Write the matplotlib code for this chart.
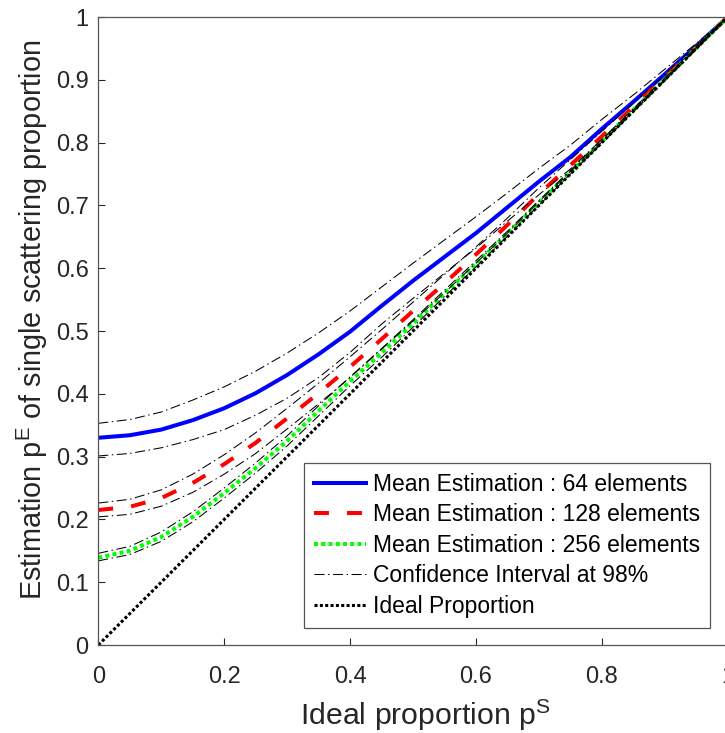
import matplotlib
matplotlib.use('Agg')
import matplotlib.pyplot as plt

# ---------------- data ----------------
p_ideal = [0.00, 0.05, 0.10, 0.15, 0.20, 0.25, 0.30, 0.35, 0.40, 0.45, 0.50,
           0.55, 0.60, 0.65, 0.70, 0.75, 0.80, 0.85, 0.90, 0.95, 1.00]

mean_64 = [0.330, 0.334, 0.343, 0.358, 0.377, 0.401, 0.430, 0.463, 0.499, 0.540, 0.580,
           0.618, 0.656, 0.697, 0.738, 0.777, 0.822, 0.865, 0.909, 0.954, 1.000]
upper_64 = [0.353, 0.359, 0.371, 0.390, 0.411, 0.436, 0.465, 0.497, 0.532, 0.570, 0.608,
            0.645, 0.682, 0.720, 0.759, 0.796, 0.837, 0.876, 0.917, 0.958, 1.000]
lower_64 = [0.301, 0.305, 0.314, 0.327, 0.343, 0.366, 0.393, 0.426, 0.466, 0.511, 0.552,
            0.592, 0.632, 0.675, 0.717, 0.758, 0.805, 0.852, 0.900, 0.950, 1.000]

mean_128 = [0.215, 0.220, 0.234, 0.258, 0.288, 0.322, 0.361, 0.401, 0.443, 0.487, 0.532,
            0.576, 0.622, 0.669, 0.718, 0.764, 0.810, 0.857, 0.905, 0.952, 1.000]
upper_128 = [0.226, 0.232, 0.247, 0.272, 0.303, 0.338, 0.377, 0.417, 0.459, 0.502, 0.546,
             0.590, 0.634, 0.680, 0.728, 0.773, 0.818, 0.863, 0.909, 0.955, 1.000]
lower_128 = [0.204, 0.208, 0.221, 0.243, 0.272, 0.305, 0.344, 0.384, 0.426, 0.471, 0.516,
             0.561, 0.608, 0.656, 0.706, 0.754, 0.801, 0.850, 0.899, 0.949, 1.000]

mean_256 = [0.139, 0.150, 0.172, 0.204, 0.242, 0.282, 0.325, 0.373, 0.420, 0.465, 0.512,
            0.560, 0.607, 0.655, 0.704, 0.753, 0.802, 0.852, 0.901, 0.951, 1.000]
upper_256 = [0.146, 0.157, 0.180, 0.212, 0.250, 0.290, 0.333, 0.381, 0.427, 0.472, 0.518,
             0.565, 0.612, 0.659, 0.708, 0.756, 0.805, 0.854, 0.903, 0.952, 1.000]
lower_256 = [0.134, 0.144, 0.165, 0.196, 0.234, 0.274, 0.317, 0.365, 0.413, 0.458, 0.506,
             0.555, 0.602, 0.651, 0.700, 0.750, 0.799, 0.849, 0.899, 0.949, 1.000]

ideal_x = [0.0, 1.0]
ideal_y = [0.0, 1.0]

x_ticks = [0, 0.2, 0.4, 0.6, 0.8, 1]
x_tick_labels = ['0', '0.2', '0.4', '0.6', '0.8', '1']
y_ticks = [0, 0.1, 0.2, 0.3, 0.4, 0.5, 0.6, 0.7, 0.8, 0.9, 1]
y_tick_labels = ['0', '0.1', '0.2', '0.3', '0.4', '0.5', '0.6', '0.7', '0.8', '0.9', '1']

legend_labels = ['Mean Estimation : 64 elements',
                 'Mean Estimation : 128 elements',
                 'Mean Estimation : 256 elements',
                 'Confidence Interval at 98%',
                 'Ideal Proportion']

# ---------------- fonts ----------------
plt.rcParams['font.family'] = ['Liberation Sans', 'DejaVu Sans']
plt.rcParams['mathtext.fontset'] = 'custom'
plt.rcParams['mathtext.rm'] = 'Liberation Sans'
plt.rcParams['mathtext.it'] = 'Liberation Sans'
plt.rcParams['mathtext.bf'] = 'Liberation Sans'

W, H = 725, 733
fig = plt.figure(figsize=(W / 100, H / 100), dpi=100)
ax = fig.add_axes([98.3 / W, (H - 645) / H, 629.5 / W, 628 / H])

lw_main = 2.9
ax.plot(p_ideal, mean_64, color='#0000ff', lw=lw_main, ls='-', label=legend_labels[0])
ax.plot(p_ideal, mean_128, color='#ff0000', lw=lw_main, ls=(0, (3.7, 4.5)), label=legend_labels[1])
ax.plot(p_ideal, mean_256, color='#00ff00', lw=lw_main, ls=(0, (1.0, 0.8)), label=legend_labels[2])

ci_style = dict(color='black', lw=0.75, ls=(0, (9.6, 3.4, 1.4, 3.4)))
ax.plot(p_ideal, upper_64, label=legend_labels[3], **ci_style)
ax.plot(p_ideal, lower_64, **ci_style)
ax.plot(p_ideal, upper_128, **ci_style)
ax.plot(p_ideal, lower_128, **ci_style)
ax.plot(p_ideal, upper_256, **ci_style)
ax.plot(p_ideal, lower_256, **ci_style)

ax.plot(ideal_x, ideal_y, color='black', lw=2.2, ls=(0, (1.0, 0.75)), label=legend_labels[4])

ax.set_xlim(0, 1)
ax.set_ylim(0, 1)
ax.set_xticks(x_ticks)
ax.set_xticklabels(x_tick_labels)
ax.set_yticks(y_ticks)
ax.set_yticklabels(y_tick_labels)
ax.tick_params(direction='in', length=5, width=0.8, color='#262626',
               labelsize=17, labelcolor='#262626', top=False, right=False)
ax.tick_params(axis='x', pad=15)
ax.tick_params(axis='y', pad=7)
for s in ax.spines.values():
    s.set_color('#555555')
    s.set_linewidth(0.9)

ax.set_xlabel(r'Ideal proportion $\mathrm{p}^{\mathrm{S}}$', fontsize=21.8, color='#262626', labelpad=7)
ax.set_ylabel(r'Estimation $\mathrm{p}^{\mathrm{E}}$ of single scattering proportion',
              fontsize=20.8, color='#262626', labelpad=4)
ax.xaxis.label.set_x(0.52)
ax.yaxis.label.set_y(0.5175)

handles, labels = ax.get_legend_handles_labels()
leg = fig.legend(handles, labels, loc='upper left', bbox_to_anchor=(304 / W, 1 - 463 / H),
                 bbox_transform=fig.transFigure, frameon=True, fancybox=False, shadow=False,
                 framealpha=1, edgecolor='#555555', borderaxespad=0,
                 prop={'family': ['Liberation Sans', 'DejaVu Sans'], 'size': 16.5},
                 handlelength=2.3, handletextpad=0.3, labelspacing=0.33, borderpad=0.42)
leg.get_frame().set_linewidth(0.9)

fig.savefig('out.png', dpi=100)
